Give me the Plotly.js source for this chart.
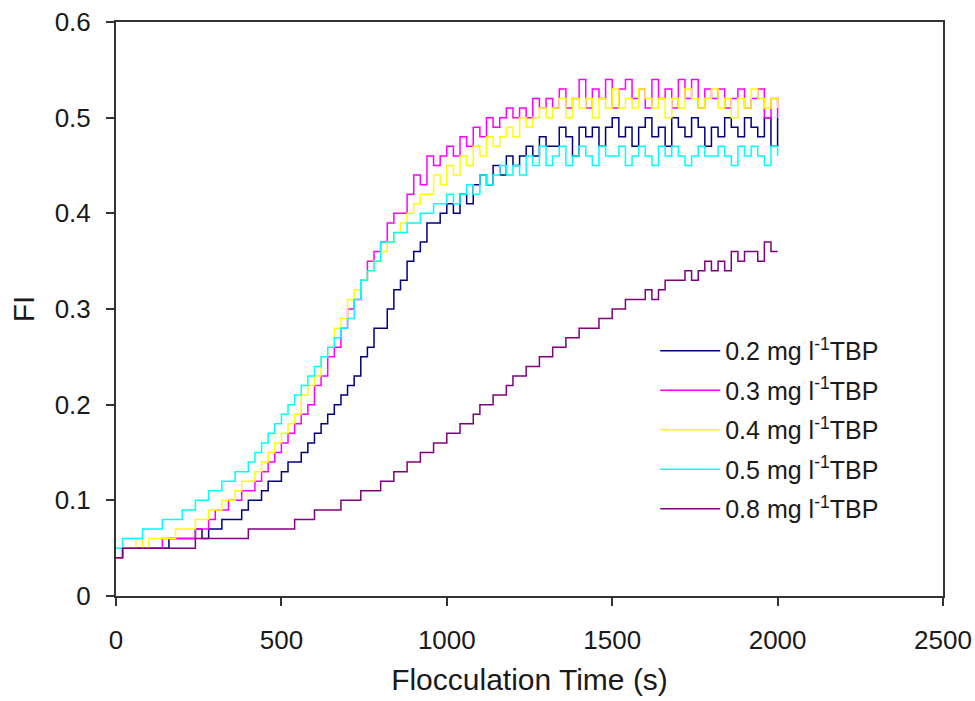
<!DOCTYPE html>
<html>
<head>
<meta charset="utf-8">
<script src="https://cdn.plot.ly/plotly-3.0.1.min.js"></script>
<style>html,body{margin:0;padding:0;background:#fff;}#chart{width:975px;height:701px;}</style>
</head>
<body>
<div id="chart"></div>
<script>
const timeS = [0,20,40,60,80,100,120,140,160,180,200,220,240,260,280,300,320,340,360,380,400,420,440,460,480,500,520,540,560,580,600,620,640,660,680,700,720,740,760,780,800,820,840,860,880,900,920,940,960,980,1000,1020,1040,1060,1080,1100,1120,1140,1160,1180,1200,1220,1240,1260,1280,1300,1320,1340,1360,1380,1400,1420,1440,1460,1480,1500,1520,1540,1560,1580,1600,1620,1640,1660,1680,1700,1720,1740,1760,1780,1800,1820,1840,1860,1880,1900,1920,1940,1960,1980,2000];

const fi02 = [0.04,0.05,0.05,0.05,0.05,0.05,0.05,0.05,0.06,0.06,0.06,0.06,0.07,0.06,0.07,0.07,0.08,0.08,0.08,0.09,0.10,0.10,0.11,0.12,0.12,0.13,0.14,0.14,0.15,0.16,0.17,0.18,0.19,0.20,0.21,0.22,0.23,0.25,0.26,0.28,0.28,0.30,0.32,0.33,0.35,0.36,0.37,0.39,0.39,0.40,0.41,0.40,0.42,0.41,0.43,0.44,0.43,0.45,0.44,0.46,0.45,0.46,0.47,0.46,0.48,0.47,0.47,0.49,0.48,0.46,0.49,0.48,0.49,0.47,0.49,0.50,0.48,0.49,0.47,0.49,0.50,0.48,0.49,0.47,0.50,0.49,0.48,0.50,0.49,0.47,0.49,0.48,0.50,0.49,0.48,0.50,0.49,0.48,0.50,0.47,0.50];

const fi03 = [0.04,0.05,0.05,0.05,0.05,0.05,0.05,0.06,0.06,0.06,0.06,0.06,0.07,0.07,0.08,0.09,0.09,0.10,0.10,0.11,0.11,0.12,0.13,0.14,0.15,0.16,0.17,0.18,0.19,0.20,0.22,0.23,0.25,0.26,0.28,0.30,0.31,0.33,0.35,0.36,0.37,0.39,0.40,0.40,0.42,0.44,0.43,0.46,0.45,0.46,0.47,0.46,0.48,0.47,0.49,0.48,0.50,0.49,0.50,0.51,0.50,0.51,0.50,0.52,0.51,0.52,0.51,0.53,0.51,0.52,0.54,0.51,0.53,0.52,0.54,0.51,0.53,0.54,0.52,0.53,0.51,0.54,0.52,0.53,0.51,0.54,0.52,0.54,0.51,0.53,0.52,0.53,0.51,0.52,0.53,0.51,0.52,0.53,0.50,0.52,0.50];

const fi04 = [0.04,0.05,0.05,0.06,0.05,0.06,0.06,0.06,0.06,0.07,0.07,0.07,0.08,0.08,0.09,0.09,0.10,0.10,0.11,0.12,0.12,0.13,0.14,0.15,0.16,0.17,0.18,0.19,0.21,0.22,0.23,0.25,0.26,0.28,0.29,0.31,0.32,0.33,0.34,0.35,0.36,0.37,0.38,0.39,0.40,0.41,0.42,0.42,0.44,0.43,0.45,0.44,0.46,0.45,0.47,0.46,0.48,0.47,0.48,0.49,0.48,0.50,0.49,0.50,0.51,0.50,0.51,0.52,0.50,0.52,0.51,0.52,0.50,0.52,0.51,0.53,0.51,0.52,0.51,0.53,0.52,0.51,0.52,0.50,0.52,0.51,0.53,0.52,0.51,0.52,0.53,0.51,0.52,0.50,0.52,0.51,0.53,0.52,0.51,0.52,0.51];

const fi05 = [0.05,0.06,0.06,0.06,0.07,0.07,0.07,0.08,0.08,0.08,0.09,0.09,0.10,0.10,0.11,0.11,0.12,0.12,0.13,0.13,0.14,0.15,0.16,0.17,0.18,0.19,0.20,0.21,0.22,0.23,0.24,0.25,0.26,0.27,0.28,0.29,0.31,0.33,0.34,0.35,0.37,0.37,0.38,0.38,0.39,0.39,0.40,0.40,0.41,0.41,0.42,0.41,0.42,0.43,0.42,0.44,0.43,0.44,0.45,0.44,0.45,0.44,0.46,0.45,0.47,0.45,0.46,0.47,0.45,0.46,0.47,0.46,0.45,0.47,0.46,0.46,0.47,0.45,0.46,0.47,0.46,0.45,0.47,0.46,0.47,0.46,0.45,0.46,0.47,0.46,0.46,0.47,0.46,0.45,0.47,0.46,0.47,0.46,0.45,0.47,0.46];

const fi08 = [0.04,0.05,0.05,0.05,0.05,0.05,0.05,0.05,0.05,0.05,0.05,0.05,0.06,0.06,0.06,0.06,0.06,0.06,0.06,0.06,0.07,0.07,0.07,0.07,0.07,0.07,0.07,0.08,0.08,0.08,0.09,0.09,0.09,0.09,0.10,0.10,0.10,0.11,0.11,0.11,0.12,0.12,0.13,0.13,0.14,0.14,0.15,0.15,0.16,0.16,0.17,0.17,0.18,0.18,0.19,0.20,0.20,0.21,0.21,0.22,0.23,0.23,0.24,0.24,0.25,0.25,0.26,0.26,0.27,0.27,0.28,0.28,0.28,0.29,0.29,0.30,0.30,0.31,0.31,0.31,0.32,0.31,0.32,0.33,0.33,0.33,0.34,0.33,0.34,0.35,0.34,0.35,0.34,0.36,0.35,0.36,0.36,0.35,0.37,0.36,0.36];

const seriesNames = ['0.2 mg l<sup>-1</sup>TBP','0.3 mg l<sup>-1</sup>TBP','0.4 mg l<sup>-1</sup>TBP','0.5 mg l<sup>-1</sup>TBP','0.8 mg l<sup>-1</sup>TBP'];
const seriesValues = [fi02, fi03, fi04, fi05, fi08];
const seriesColors = ['#000080','#ff00ff','#ffff00','#00ffff','#800080'];

const xTicks = [0,500,1000,1500,2000,2500];
const yTicks = [0,0.1,0.2,0.3,0.4,0.5,0.6];
const yTickText = ['0','0.1','0.2','0.3','0.4','0.5','0.6'];

const traces = seriesValues.map((v,i)=>({
  x: timeS, y: v, type:'scatter', mode:'lines', name: seriesNames[i],
  line:{color: seriesColors[i], width:1.5, shape:'hv'}, legendgroup:'g'+i
}));

const fam = '"Liberation Sans", Arial, sans-serif';
const txt = '#1a1a1a';
const layout = {
  width:975, height:701,
  margin:{l:116, r:32, t:22, b:105},
  paper_bgcolor:'#fff', plot_bgcolor:'#fff',
  font:{family:fam, color:txt, size:24},
  showlegend:true,
  legend:{x:0.652, y:0.467, xanchor:'left', yanchor:'top', bgcolor:'rgba(0,0,0,0)',
    font:{family:fam, color:txt, size:25}, tracegroupgap:4, itemwidth:60},
  xaxis:{range:[0,2500], tickvals:xTicks, ticktext:xTicks.map(String), ticks:'outside', ticklen:8, tickwidth:2,
    tickcolor:'#333', showline:true, linecolor:'#333', linewidth:2, mirror:true, showgrid:false, zeroline:false,
    ticklabelstandoff:12,
    tickfont:{family:fam, color:txt, size:26},
    title:{text:'Flocculation Time (s)', font:{family:fam, color:txt, size:30}, standoff:15}},
  yaxis:{range:[0,0.6], tickvals:yTicks, ticktext:yTickText, ticks:'outside', ticklen:8, tickwidth:2,
    tickcolor:'#333', showline:true, linecolor:'#333', linewidth:2, mirror:true, showgrid:false, zeroline:false,
    ticklabelstandoff:10,
    tickfont:{family:fam, color:txt, size:26},
    title:{text:'FI', font:{family:fam, color:txt, size:30}, standoff:11}}
};
Plotly.newPlot('chart', traces, layout, {displayModeBar:false, staticPlot:true});
</script>
</body>
</html>
